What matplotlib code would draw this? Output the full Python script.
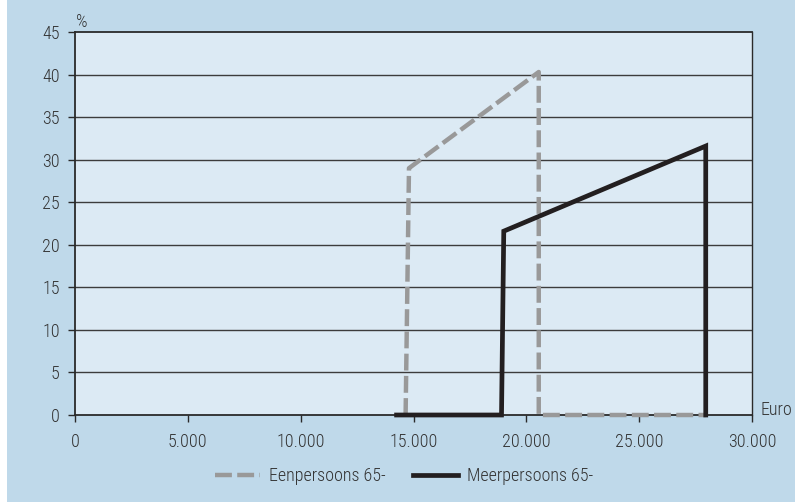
import matplotlib
matplotlib.use("Agg")
import matplotlib.pyplot as plt
from matplotlib.patches import Rectangle

plt.rcParams['font.family'] = ['Roboto Condensed', 'DejaVu Sans']
plt.rcParams['font.weight'] = 'light'

# Data
een_x = [14650, 14800, 20550, 20550, 27950]
een_y = [0, 29.0, 40.3, 0, 0]
meer_x = [14250, 18900, 19000, 27950, 27950]
meer_y = [0, 0, 21.6, 31.6, 0]
series_labels = ["Eenpersoons 65-", "Meerpersoons 65-"]
xticks = [0, 5000, 10000, 15000, 20000, 25000, 30000]
xticklabels = ["0", "5.000", "10.000", "15.000", "20.000", "25.000", "30.000"]
yticks = list(range(0, 50, 5))

outer_bg = "#bfd9ea"
inner_bg = "#dceaf4"
text_c = "#333333"

fig = plt.figure(figsize=(7.95, 5.03), dpi=100)
fig.patch.set_facecolor("white")
fig.add_artist(Rectangle((7/795, 0.002), 1, 1, transform=fig.transFigure,
                         facecolor=outer_bg, edgecolor="none", zorder=-10))

ax = fig.add_axes([75/795, 1-415/503, (752-75)/795, (415-32)/503])
ax.set_facecolor(inner_bg)
ax.set_xlim(0, 30000)
ax.set_ylim(0, 45)

for y in yticks[1:-1]:
    ax.axhline(y, color="#3c3c3c", lw=1.0, zorder=1)

ax.plot(een_x, een_y, color="#999999", lw=3.2, dashes=(3.8, 1.2),
        solid_joinstyle="miter", clip_on=False, zorder=3, label=series_labels[0])
ax.plot(meer_x, meer_y, color="#231f20", lw=3.4, solid_joinstyle="miter",
        clip_on=False, zorder=4, label=series_labels[1])

for s in ["left", "bottom", "top"]:
    ax.spines[s].set_color("#2a2a2a")
    ax.spines[s].set_linewidth(1.3)
ax.spines["right"].set_color("#2a2a2a")
ax.spines["right"].set_linewidth(1.0)

ax.set_xticks(xticks)
ax.set_xticklabels(xticklabels)
ax.set_yticks(yticks)
ax.tick_params(axis="both", direction="out", length=5, width=1, color="#2a2a2a",
               labelsize=13, labelcolor=text_c)
ax.tick_params(axis="x", pad=8)
ax.tick_params(axis="y", pad=6)

ax.text(0.0103, 1.026, "%", transform=ax.transAxes, fontsize=13, color=text_c,
        ha="center", va="center")
ax.text(1.012, 0.012, "Euro", transform=ax.transAxes, fontsize=13, color=text_c,
        ha="left", va="center")

leg = fig.legend(loc="center", bbox_to_anchor=(0.508, 1-476/503), ncol=2,
                 frameon=False, fontsize=13, handlelength=2.5, columnspacing=1.5,
                 handletextpad=0.5, labelcolor=text_c)

fig.savefig("out.png", dpi=100, facecolor=fig.get_facecolor())
